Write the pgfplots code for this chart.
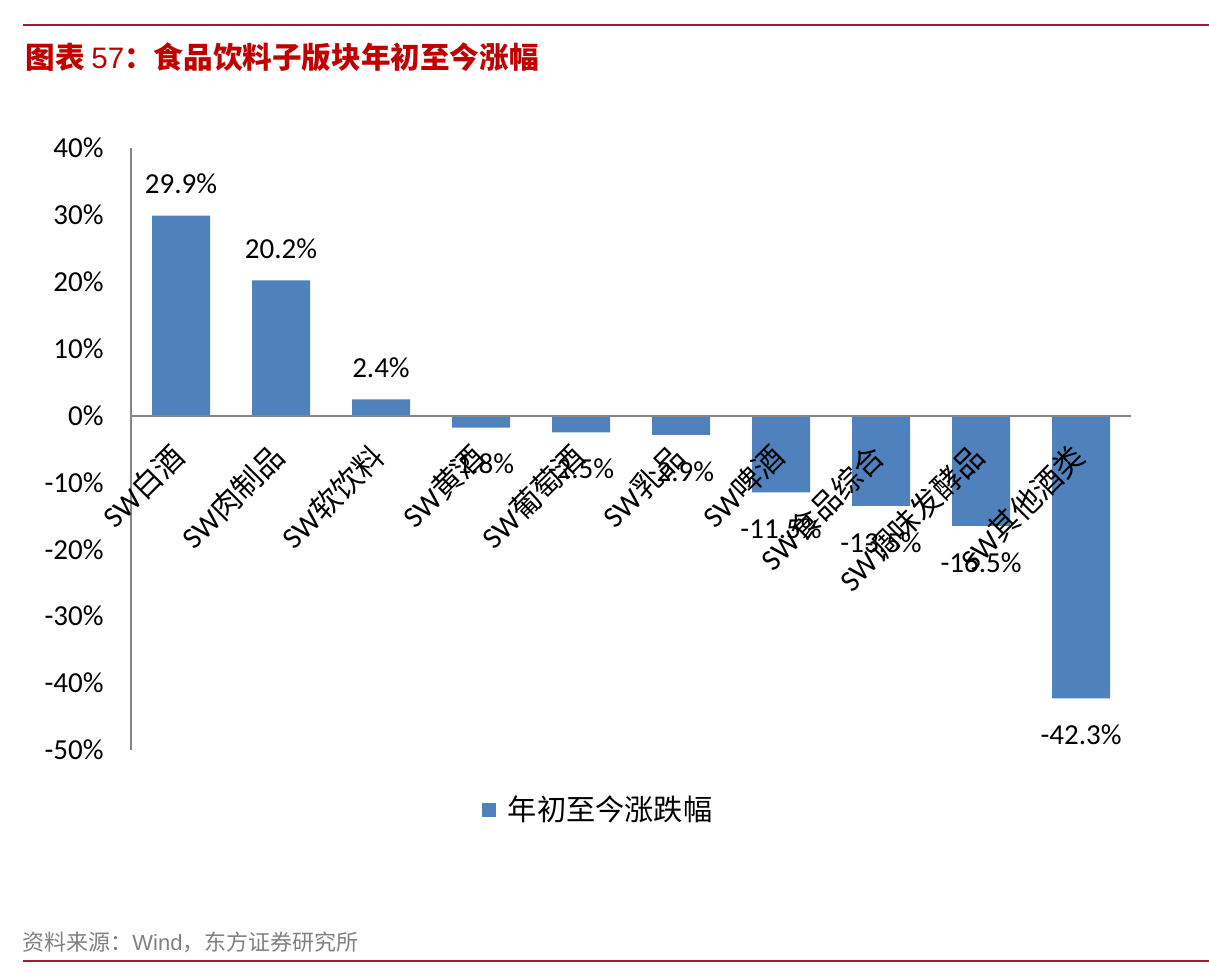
\documentclass[border=0pt]{standalone}
\usepackage{fontspec}
\setmainfont{Carlito}
\newfontfamily\cjk{Noto Sans CJK SC}
\newfontfamily\arial{Liberation Sans}
\usepackage{pgfplots}
\pgfplotsset{compat=1.18}
\definecolor{barblue}{RGB}{79,129,189}
\definecolor{axgray}{RGB}{134,134,134}
\definecolor{titlered}{RGB}{192,0,0}
\definecolor{linered}{RGB}{166,25,46}
\definecolor{srcgray}{RGB}{128,128,128}

\begin{document}
\begin{tikzpicture}
\useasboundingbox (0,0) rectangle (604.5pt,488.5pt);
% frame lines, title and source
\draw[linered, line width=1pt] (11.5pt,476pt) -- (604.5pt,476pt);
\draw[linered, line width=1pt] (11.5pt,8pt) -- (604.5pt,8pt);
\node[anchor=west, inner sep=0pt, text=titlered, font=\fontsize{14.8}{17}\selectfont]
  at (12.5pt,460pt) {{\cjk\bfseries 图表} {\arial 57}{\cjk\bfseries ：食品饮料子版块年初至今涨幅}};
\node[anchor=west, inner sep=0pt, text=srcgray, font=\fontsize{11}{13}\selectfont]
  at (11pt,17.5pt) {{\cjk 资料来源：}{\arial Wind}{\cjk ，东方证券研究所}};

\begin{axis}[
  at={(65.5pt,113.5pt)}, anchor=south west,
  scale only axis, width=500pt, height=301pt,
  xmin=-0.5, xmax=9.5, ymin=-50, ymax=40,
  axis y line=left, axis x line=middle,
  axis line style={axgray, line width=1pt, -},
  axis on top,
  hide obscured x ticks=false, hide obscured y ticks=false,
  major tick length=0pt,
  clip=false,
  /pgf/number format/assume math mode=true,
  ytick={-50,-40,...,40},
  yticklabel={\pgfmathprintnumber{\tick}\%},
  yticklabel style={font=\fontsize{14.5}{16}\selectfont, anchor=east, inner sep=0pt, xshift=-13.5pt},
  xtick={0,...,9},
  xticklabels={{SW{\cjk 白酒}},{SW{\cjk 肉制品}},{SW{\cjk 软饮料}},{SW{\cjk 黄酒}},{SW{\cjk 葡萄酒}},
    {SW{\cjk 乳品}},{SW{\cjk 啤酒}},{SW{\cjk 食品综合}},{SW{\cjk 调味发酵品}},{SW{\cjk 其他酒类}}},
  xticklabel style={font=\fontsize{15}{17}\selectfont, inner sep=0pt, xshift=-1pt, yshift=-17.5pt, rotate=45, anchor=east},
  nodes near coords={\pgfmathprintnumber[fixed,fixed zerofill,precision=1]{\pgfplotspointmeta}\%},
  legend style={at={(0.468,-0.0997)}, anchor=center, draw=none, inner sep=0pt,
    font=\fontsize{14.6}{17}\selectfont,
    /tikz/every odd column/.append style={column sep=4pt}},
  legend image code/.code={\fill[barblue] (0pt,-3.5pt) rectangle (7pt,3.5pt);},
]
\addplot[ybar, fill=barblue, draw=none, bar width=29pt, bar shift=0pt,
  every node near coord/.style={anchor=south, inner sep=0pt, yshift=10.5pt, black, font=\fontsize{14.5}{17}\selectfont}]
  coordinates {(0,29.9) (1,20.2) (2,2.4)};
\addlegendentry{\cjk 年初至今涨跌幅}
\addplot[ybar, fill=barblue, draw=none, bar width=29pt, bar shift=0pt, forget plot,
  every node near coord/.style={anchor=north, inner sep=0pt, yshift=-13pt, black, font=\fontsize{14.5}{17}\selectfont}]
  coordinates {(3,-1.8) (4,-2.5) (5,-2.9) (6,-11.5) (7,-13.5) (8,-16.5) (9,-42.3)};
\end{axis}
\end{tikzpicture}
\end{document}
